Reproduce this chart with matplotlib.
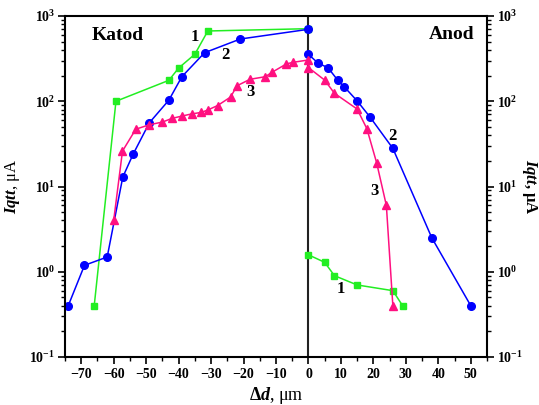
import numpy as np
import matplotlib
matplotlib.use("Agg")
import matplotlib.pyplot as plt

plt.rcParams['font.family'] = ['Liberation Serif', 'DejaVu Serif']
plt.rcParams['font.weight'] = 'bold'
plt.rcParams['mathtext.fontset'] = 'custom'
plt.rcParams['mathtext.rm'] = 'Liberation Serif:bold'
plt.rcParams['mathtext.it'] = 'Liberation Serif:bold:italic'
plt.rcParams['mathtext.bf'] = 'Liberation Serif:bold'

# curve 1 (green squares)
x1_cat = [-66, -59.3, -43, -40, -35, -31, 0]
y1_cat = [0.4, 100, 176, 245, 356, 667, 710]
x1_an = [0, 5, 8, 15, 26, 29]
y1_an = [1.58, 1.29, 0.90, 0.70, 0.60, 0.40]

# curve 2 (blue circles)
x2_cat = [-74, -69, -62, -57.2, -54, -49, -43, -39, -32, -21, 0]
y2_cat = [0.4, 1.19, 1.49, 12.9, 24, 56, 103, 194, 371, 537, 698]
x2_an = [0, 3, 6, 9, 11, 15, 19, 26, 38, 50]
y2_an = [355, 279, 248, 177, 148, 101, 65, 28, 2.5, 0.4]

# curve 3 (pink triangles)
x3_cat = [-60, -57.3, -53.2, -49, -45, -42, -39, -36, -33, -31, -28, -24,
          -22, -18, -13.3, -11.2, -6.8, -4.8, 0]
y3_cat = [4.0, 26, 47, 53, 57, 63, 67, 71, 74, 79, 89, 112,
          152, 181, 194, 219, 274, 286, 305]
x3_an = [0, 5, 8, 15, 18, 21, 24, 26]
y3_an = [248, 177, 124, 81, 47.6, 19, 6.0, 0.4]

green = '#22ee22'
blue = '#0000ff'
pink = '#ff1080'

fig = plt.figure(figsize=(5.39, 4.05), dpi=100)
ax = fig.add_axes([0.1206, 0.1185, 0.7829, 0.842])

ax.plot(x1_cat, y1_cat, color=green, marker='s', ms=5, lw=1.1)
ax.plot(x1_an, y1_an, color=green, marker='s', ms=5, lw=1.1)
ax.plot(x2_cat, y2_cat, color=blue, marker='o', ms=5.5, lw=1.1)
ax.plot(x2_an, y2_an, color=blue, marker='o', ms=5.5, lw=1.1)
ax.plot(x3_cat, y3_cat, color=pink, marker='^', ms=6, lw=1.1)
ax.plot(x3_an, y3_an, color=pink, marker='^', ms=6, lw=1.1)

ax.axvline(0, color='#222222', lw=1.5, zorder=1)

ax.set_yscale('log')
ax.set_xlim(-75, 55)
ax.set_ylim(0.1, 1000)
ax.set_xticks(np.arange(-70, 51, 10))
ax.set_xticks(np.arange(-75, 56, 5), minor=True)

ax.tick_params(which='both', direction='out', labelsize=10, pad=3)
ax.tick_params(axis='y', which='both', right=True, labelright=True, pad=2)
ax.tick_params(which='major', length=5, width=1.2)
ax.tick_params(which='minor', length=3, width=1)
for sp in ax.spines.values():
    sp.set_linewidth(1.5)

ax.set_xlabel(r'$\mathit{\Delta d}$, μm', fontsize=13, labelpad=3)
ax.set_ylabel(r'$\mathit{Iqtt}$, μA', fontsize=12, labelpad=5)
ax.text(1.1, 0.5, r'$\mathit{Iqtt}$, μA', transform=ax.transAxes, rotation=-90,
        ha='center', va='center', fontsize=12)

ax.text(-66.7, 588, 'Katod', fontsize=14, va='center', ha='left')
ax.text(51, 610, 'Anod', fontsize=14, va='center', ha='right')

ax.text(-34.9, 571, '1', fontsize=12, ha='center', va='center')
ax.text(-25.6, 349, '2', fontsize=12, ha='center', va='center')
ax.text(-17.9, 129, '3', fontsize=12, ha='center', va='center')
ax.text(25.8, 39, '2', fontsize=12, ha='center', va='center')
ax.text(20.2, 8.85, '3', fontsize=12, ha='center', va='center')
ax.text(10.1, 0.62, '1', fontsize=12, ha='center', va='center')

fig.savefig('out.png', dpi=100)
